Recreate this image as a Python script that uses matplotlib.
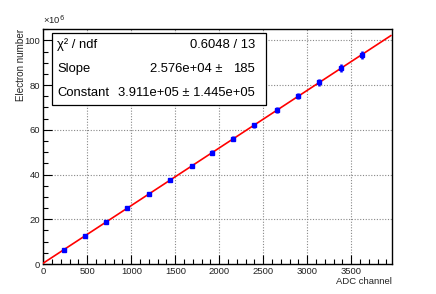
import matplotlib
matplotlib.use("Agg")
import matplotlib.pyplot as plt
from matplotlib.ticker import MultipleLocator
from matplotlib.patches import Rectangle
import numpy as np

plt.rcParams['font.family'] = ['Liberation Sans', 'DejaVu Sans']

# data (electron number in units of 1e6)
adc = [230, 470, 710, 955, 1200, 1440, 1685, 1920, 2155, 2390, 2655, 2900, 3135, 3380, 3620]
electrons = [6.3, 12.4, 18.7, 25.0, 31.2, 37.5, 43.9, 49.8, 56.0, 62.0, 68.7, 75.1, 81.2, 87.5, 93.6]
errors = [0.13, 0.25, 0.37, 0.5, 0.62, 0.75, 0.88, 1.0, 1.12, 1.24, 1.37, 1.5, 1.62, 1.75, 1.87]

slope = 2.576e4
constant = 3.911e5
fit_range = [0, 3950]

stat_names = ["χ² / ndf", "Slope", "Constant"]
stat_values = ["0.6048 / 13", "2.576e+04 ±", "3.911e+05 ± 1.445e+05"]
slope_err = "185"

W, H = 436, 294
fig = plt.figure(figsize=(W / 100, H / 100), dpi=100)
L, R, T, B = 43.3, 392, 29, 264
ax = fig.add_axes([L / W, 1 - B / H, (R - L) / W, (B - T) / H])

ax.set_xlim(0, 3963)
ax.set_ylim(0, 105.1)

ax.grid(True, which='major', color='#888888', linestyle=(0, (1, 1.5)), linewidth=0.8)
ax.set_axisbelow(True)

xf = np.linspace(fit_range[0], fit_range[1], 100)
ax.plot(xf, (constant + slope * xf) / 1e6, color='#ff0000', lw=1.2, zorder=3)

ax.errorbar(adc, electrons, yerr=errors, fmt='s', color='#0000ff', ms=2.2,
            elinewidth=1.8, capsize=0, zorder=4)

ax.xaxis.set_major_locator(MultipleLocator(500))
ax.xaxis.set_minor_locator(MultipleLocator(100))
ax.yaxis.set_major_locator(MultipleLocator(20))
ax.yaxis.set_minor_locator(MultipleLocator(5))
ax.tick_params(which='both', direction='in', top=False, right=False, labelsize=6.8,
               colors='black', labelcolor='#222222')
ax.tick_params(which='major', length=6.5, width=0.8)
ax.tick_params(which='minor', length=3.5, width=0.8)
ax.tick_params(axis='x', pad=2)
ax.tick_params(axis='y', pad=2.5)
for s in ax.spines.values():
    s.set_linewidth(1.0)

def px(x, y):
    return x / W, 1 - y / H

fig.text(*px(392, 281), "ADC channel", ha='right', va='center', fontsize=6.8, color='#222222')
fig.text(*px(20.5, 28.5), "Electron number", ha='center', va='top', rotation=90,
         fontsize=7.1, color='#222222')
fig.text(*px(43, 26.5), "×10$^{6}$", ha='left', va='bottom', fontsize=6.8, color='#222222')

# stats box
bx0, by0, bx1, by1 = 52, 33, 266, 105
fig.patches.append(Rectangle(px(bx0 + 1, by1 + 1), (bx1 - bx0) / W, (by1 - by0) / H,
                             transform=fig.transFigure, facecolor='#444444',
                             edgecolor='none', zorder=5))
fig.patches.append(Rectangle(px(bx0, by1), (bx1 - bx0) / W, (by1 - by0) / H,
                             transform=fig.transFigure, facecolor='white',
                             edgecolor='black', lw=0.9, zorder=6))
fs = 9.4
rows = [45, 69, 93]
for name, val, yy in zip(stat_names, stat_values, rows):
    fig.text(*px(57, yy), name, ha='left', va='center', fontsize=fs, zorder=7)
    if name == "Slope":
        fig.text(*px(222, yy), val, ha='right', va='center', fontsize=fs, zorder=7)
        fig.text(*px(255, yy), slope_err, ha='right', va='center', fontsize=fs, zorder=7)
    else:
        fig.text(*px(255, yy), val, ha='right', va='center', fontsize=fs, zorder=7)

fig.savefig("out.png", dpi=100)
